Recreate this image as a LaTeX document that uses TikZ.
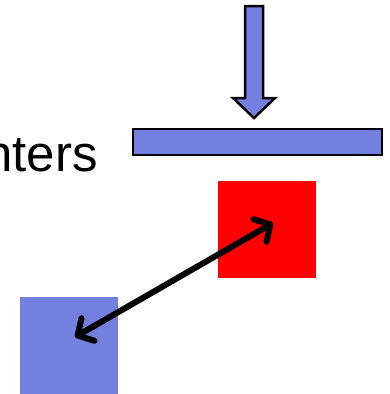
\documentclass[tikz,border=0pt]{standalone}
\usepackage{fontspec}
\setmainfont{Liberation Sans}
\usetikzlibrary{arrows.meta}
\definecolor{slate}{RGB}{115,128,224}
\definecolor{hot}{RGB}{255,0,0}
\begin{document}
\begin{tikzpicture}[x=1pt,y=-1pt,
  outlined/.style={draw=black,line width=2.5pt,fill=slate},
  flat/.style={draw=none,inner sep=0pt,minimum width=98pt,minimum height=97pt},
  link/.style={line width=6pt,line cap=round,
    {Straight Barb[length=12pt,width=26pt,round]}-{Straight Barb[length=12pt,width=26pt,round]}}]
  \useasboundingbox (0,0) rectangle (389,394);
  % label text, partly outside the frame
  \node[anchor=base east,inner sep=0pt,font=\fontsize{51}{56}\selectfont] (lbl) at (98,171) {nters};
  % pressing arrow and plate
  \draw[outlined,line join=miter] (245,6) -- (263,6) -- (263,98) -- (275,98) -- (254,118)
    -- (233,98) -- (245,98) -- cycle;
  \node[outlined,inner sep=0pt,minimum width=249pt,minimum height=26pt] (plate) at (257.5,142) {};
  % two squares
  \node[flat,fill=hot] (red) at (266.5,229.5) {};
  \node[flat,fill=slate] (blue) at (69,345) {};
  \coordinate (rp) at (273,223);
  \coordinate (bp) at (75,337);
  \draw[link] (bp) -- (rp);
\end{tikzpicture}
\end{document}
